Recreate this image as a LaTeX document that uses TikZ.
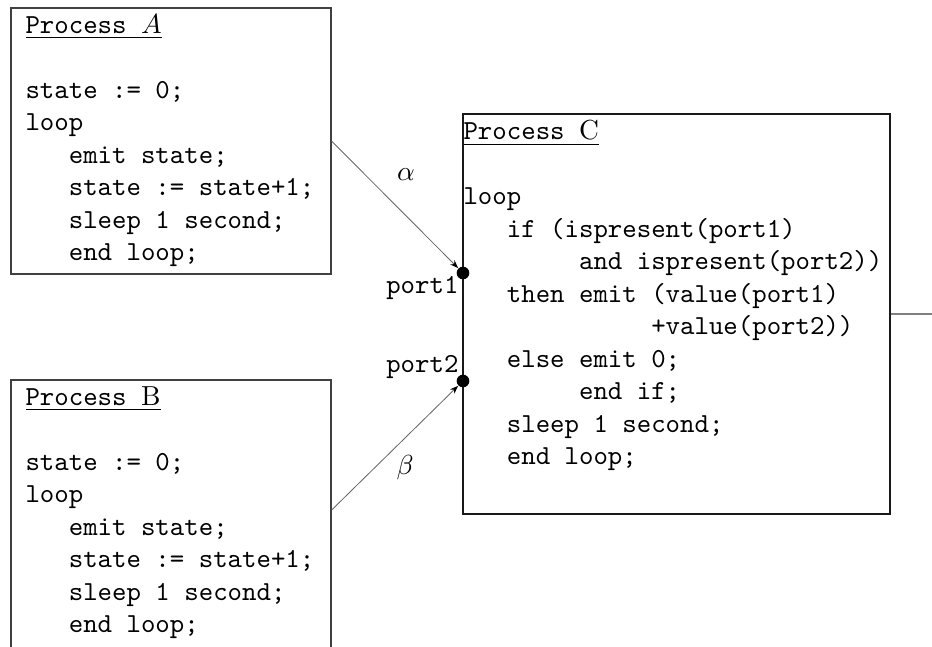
\documentclass[tikz,border=0pt]{standalone}
\usetikzlibrary{positioning, arrows.meta, fit}

\newcommand{\codeind}[1]{\hspace*{#1\fontdimen2\font}}

\begin{document}
\begin{tikzpicture}[
        x=0.3636pt, y=-0.3636pt,
        procbox/.style={
            rectangle,
            draw=black!75,
            inner sep=0pt
        },
        code/.style={
            anchor=north west,
            inner sep=0pt,
            align=left,
            font=\ttfamily\fontsize{10}{11.8}\selectfont
        },
        port/.style={
            circle,
            fill,
            inner sep=0pt,
            minimum size=4.6pt
        },
        portlabel/.style={
            anchor=east,
            inner sep=0pt,
            font=\ttfamily
        },
        arrow/.style={
            -{Stealth[length=3pt, width=2.2pt, black]},
            draw=black!60,
            line width=0.3pt
        }
    ]

        \clip (0,0) rectangle (932,646);

        % Process A
        \node[procbox, fit={(11,8) (331,274)}] (procA) {};
        \node[code] (codeA) at (25,14) {\underline{Process $A$}\\ \mbox{}\\
            state := 0;\\ loop\\ \codeind{3}emit state;\\ \codeind{3}state := state+1;\\
            \codeind{3}sleep 1 second;\\ \codeind{3}end loop;};

        % Process B (runs off the bottom edge)
        \node[procbox, fit={(11,380) (331,660)}] (procB) {};
        \node[code] (codeB) at (25,386) {\underline{Process \textrm{B}}\\ \mbox{}\\
            state := 0;\\ loop\\ \codeind{3}emit state;\\ \codeind{3}state := state+1;\\
            \codeind{3}sleep 1 second;\\ \codeind{3}end loop;};

        % Process C
        \node[procbox, draw=black!90, fit={(463,114) (890,514)}] (procC) {};
        \node[code] (codeC) at (463,120) {\underline{Process \textrm{C}}\\ \mbox{}\\
            loop\\ \codeind{3}if (ispresent(port1)\\ \codeind{8}and ispresent(port2))\\
            \codeind{3}then emit (value(port1)\\ \codeind{13}+value(port2))\\
            \codeind{3}else emit 0;\\ \codeind{8}end if;\\
            \codeind{3}sleep 1 second;\\ \codeind{3}end loop;};

        % Ports
        \node[port] (port1) at (463,273) {};
        \node[port] (port2) at (463,381) {};
        \node[portlabel] (lblport1) at (459,288) {port1};
        \node[portlabel] (lblport2) at (459,367) {port2};

        % Channels
        \draw[arrow] (procA.east) -- (port1);
        \draw[arrow] ([yshift=3.6pt]procB.east) -- (port2);
        \node (lblalpha) at (406,175) {$\alpha$};
        \node (lblbeta) at (405,468) {$\beta$};

        % Output
        \coordinate (out) at (932,314);
        \draw[black!50, line width=0.6pt] (procC.east) -- (out);

    \end{tikzpicture}
\end{document}
